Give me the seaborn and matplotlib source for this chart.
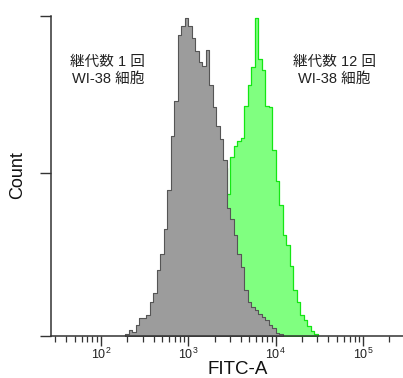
import numpy as np
import pandas as pd
import matplotlib
matplotlib.use("Agg")
import matplotlib.pyplot as plt
import seaborn as sns
from matplotlib.ticker import LogLocator, FixedLocator, NullFormatter

sns.set_theme(style="white")
plt.rcParams['font.family'] = ['Liberation Sans', 'Noto Sans CJK JP', 'DejaVu Sans']
plt.rcParams['mathtext.fontset'] = 'custom'
plt.rcParams['mathtext.rm'] = 'Liberation Sans'
plt.rcParams['mathtext.it'] = 'Liberation Sans'

# bin centres (log10 FITC-A) and counts
gray_log = [2.30, 2.34, 2.38, 2.42, 2.46, 2.50, 2.54, 2.58, 2.62, 2.66, 2.70, 2.74,
            2.78, 2.82, 2.86, 2.90, 2.94, 2.98, 3.02, 3.06, 3.10, 3.14, 3.18, 3.22,
            3.26, 3.30, 3.34, 3.38, 3.42, 3.46, 3.50, 3.54, 3.58, 3.62, 3.66, 3.70,
            3.74, 3.78, 3.82, 3.86, 3.90, 3.94, 3.98, 4.02, 4.06]
gray_counts = [1, 4, 2.5, 7, 11, 11, 13, 21, 27, 41, 51, 67,
               91, 125, 147, 188, 194, 199, 194, 186, 178, 171, 169, 179,
               157, 143, 131, 123, 110, 80, 73, 63, 51, 43, 29, 21,
               18, 16, 14, 12, 10, 7, 5, 2, 1]

green_log = [3.30, 3.34, 3.38, 3.42, 3.46, 3.50, 3.54, 3.58, 3.62, 3.66, 3.70, 3.74,
             3.78, 3.82, 3.86, 3.90, 3.94, 3.98, 4.02, 4.06, 4.10, 4.14, 4.18, 4.22,
             4.26, 4.30, 4.34, 4.38, 4.42, 4.46]
green_counts = [60, 80, 100, 105, 89, 112, 119, 122, 124, 144, 157, 168,
                199, 173, 166, 144, 143, 116, 97, 82, 63, 57, 44, 29,
                21, 13, 10, 6, 3, 1]

y_ticks = [0, 102, 200]
x_major = [1e2, 1e3, 1e4, 1e5]
x_labels = [r'$10^2$', r'$10^3$', r'$10^4$', r'$10^5$']
label_left = "継代数 1 回\nWI-38 細胞"
label_right = "継代数 12 回\nWI-38 細胞"

gray_df = pd.DataFrame({"fitc": 10 ** np.array(gray_log), "count": gray_counts})
green_df = pd.DataFrame({"fitc": 10 ** np.array(green_log), "count": green_counts})

fig = plt.figure(figsize=(4.03, 3.78), dpi=100)
ax = fig.add_axes([51 / 403, 1 - 336 / 378, 1 - 51 / 403, (336 - 16) / 378])

sns.histplot(data=green_df, x="fitc", weights="count", log_scale=True,
             bins=len(green_log), binrange=(green_log[0] - 0.02, green_log[-1] + 0.02),
             element="step", fill=True, color="#80ff80", alpha=1.0,
             edgecolor="#14e614", linewidth=0.9, ax=ax)
sns.histplot(data=gray_df, x="fitc", weights="count", log_scale=True,
             bins=len(gray_log), binrange=(gray_log[0] - 0.02, gray_log[-1] + 0.02),
             element="step", fill=True, color="#9c9c9c", alpha=1.0,
             edgecolor="#555555", linewidth=0.8, ax=ax)

ax.set_xlim(10 ** 1.4286, 10 ** 5.457)
ax.set_ylim(0, 200)
ax.set_yticks(y_ticks)
ax.set_yticklabels([])
ax.xaxis.set_major_locator(FixedLocator(x_major))
ax.set_xticklabels(x_labels)
ax.xaxis.set_minor_locator(LogLocator(base=10, subs=np.arange(2, 10), numticks=20))
ax.xaxis.set_minor_formatter(NullFormatter())

for s in ["top", "right"]:
    ax.spines[s].set_visible(False)
for s in ["left", "bottom"]:
    ax.spines[s].set_color("#333333")
    ax.spines[s].set_linewidth(1.1)

ax.tick_params(axis="y", which="major", direction="out", length=8, width=1.0,
               color="#333333", left=True)
ax.tick_params(axis="x", which="major", direction="out", length=7, width=1.0,
               color="#333333", bottom=True, labelsize=9, pad=1, labelcolor="#222222")
ax.tick_params(axis="x", which="minor", direction="out", length=4, width=0.9,
               color="#333333", bottom=True)

ax.set_xlabel("FITC-A", fontsize=13.5, color="#111111")
ax.xaxis.set_label_coords((238 - 51) / 352, -(361 - 336) / 320)
ax.set_ylabel("Count", fontsize=13, color="#111111")
ax.yaxis.set_label_coords(-(51 - 26) / 352, (336 - 175) / 320)
ax.grid(False)

ax.text(10 ** (2 + (108 - 101) / 87.5), (336 - 70) * 0.625, label_left, ha="center",
        va="center", fontsize=10.5, color="#222222", linespacing=1.25)
ax.text(10 ** (2 + (335 - 101) / 87.5), (336 - 70) * 0.625, label_right, ha="center",
        va="center", fontsize=10.5, color="#222222", linespacing=1.25)

fig.savefig("out.png", dpi=100)
